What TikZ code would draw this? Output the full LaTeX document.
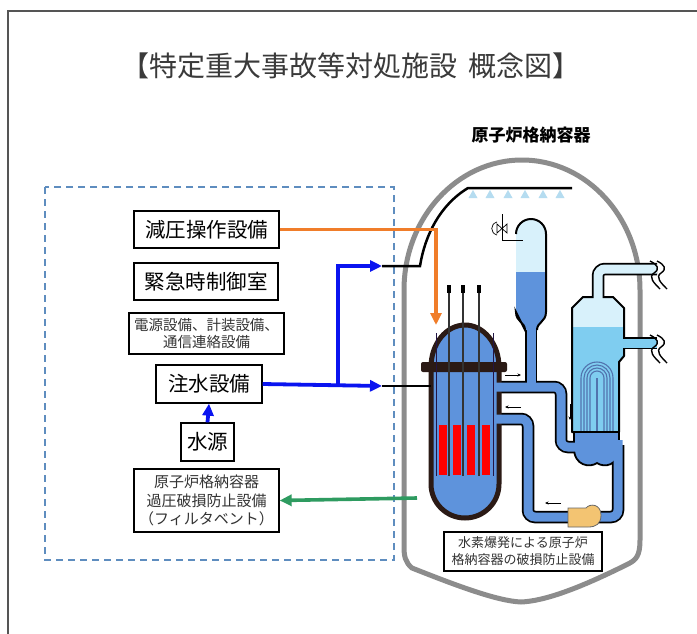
\documentclass[tikz,border=0pt]{standalone}
\usepackage{fontspec}
\newfontfamily\jp{Noto Sans CJK JP}
\usetikzlibrary{arrows.meta}
\definecolor{mblue}{HTML}{5E93DC}
\definecolor{lblue}{HTML}{D8F1FB}
\definecolor{sblue}{HTML}{7FCDF0}
\definecolor{vbrown}{HTML}{2B1A15}
\definecolor{cgray}{HTML}{8C8C8C}
\definecolor{dashc}{HTML}{5E8DBF}
\definecolor{orangec}{HTML}{F07D2A}
\definecolor{greenc}{HTML}{2E9B60}
\definecolor{pblue}{HTML}{0A14F0}
\definecolor{pumpc}{HTML}{F3C472}
\definecolor{sprayc}{HTML}{B5DCF0}
\definecolor{tubec}{HTML}{5173AE}
\definecolor{framec}{HTML}{555555}
\definecolor{titlec}{HTML}{3A3A3A}
\definecolor{graytext}{HTML}{333333}
\newcommand\brkmark[2]{%
  \draw[black, line width=1.4pt, shift={(#1,#2)}]
    (0,-14) .. controls (8,-10) and (10,-6) .. (4,-2) .. controls (-2,2) and (4,8) .. (10,14);
  \draw[black, line width=1.4pt, shift={(#1-7,#2)}]
    (0,-14) .. controls (8,-10) and (10,-6) .. (4,-2) .. controls (-2,2) and (4,8) .. (10,14);
}
\tikzset{
  boxbig/.style={draw=black, line width=1.3pt, inner sep=0pt, align=center, text=black,
    font=\jp\fontsize{20.5}{24}\selectfont},
  boxsmall/.style={draw=black, line width=1.3pt, inner sep=0pt, align=center, text=graytext},
  pipeout/.style={line width=12.5pt, black, rounded corners=7pt},
  pipein/.style={line width=9pt, mblue, rounded corners=7pt},
  flowarrow/.style={line width=0.8pt, black, -{Stealth[length=3.5pt,width=3pt]}},
  blueconn/.style={line width=3.8pt, pblue},
  bluetip/.style={-{Triangle[length=12pt,width=11pt]}},
  spraytri/.style={fill=sprayc},
}
\begin{document}
\begin{tikzpicture}[x=1pt,y=-1pt]
\useasboundingbox (0,0) rectangle (697,633);
\clip (0,0) rectangle (697,633);
\fill[white] (0,0) rectangle (697,633);
% outer frame
\draw[framec, line width=2pt] (8,11) rectangle (740,700);
% title
\node[font=\jp\fontsize{28}{30}\selectfont, text=titlec] (title) at (351,66) {【特定重大事故等対処施設\ \,概念図】};
\node[font=\jp\bfseries\fontsize{17}{20}\selectfont, text=black] (cvlabel) at (531,135) {原子炉格納容器};
% dashed area
\draw[dashc, line width=1.6pt, dash pattern=on 7pt off 5pt] (45,187) rectangle (394,560);

% containment vessel
\draw[cgray, line width=5pt] (404,290) arc[start angle=180, end angle=360, x radius=118, y radius=130]
  -- (640,540) .. controls (640,556) and (636,560) .. (628,564)
  .. controls (580,588) and (545,601) .. (521,602)
  .. controls (497,601) and (455,585) .. (412,568)
  .. controls (405,562) and (404,556) .. (404,546) -- cycle;

% spray nozzles
\foreach \sx in {473,490,508,525,543,560}{
  \fill[spraytri] (\sx,190) -- (\sx+4.5,198) -- (\sx-4.5,198) -- cycle;
}

% pipe outlines
\draw[pipeout] (531,322) -- (531,387);
\draw[pipeout] (499,387) -- (561,387) -- (561,447) -- (580,447);
\draw[pipeout] (618,445) -- (618,517) -- (528,517) -- (528,419) -- (499,419);
\draw[pipeout] (598,302) -- (598,269) -- (657,269);
\draw[pipeout] (618,343) -- (657,343);

% steam generator shell
\begin{scope}
  \clip (572,432) -- (572,308) -- (583,297) -- (613,297) -- (624,308) -- (624,356) -- (619,362) -- (619,432) -- cycle;
  \fill[lblue] (560,290) rectangle (630,327);
  \fill[sblue] (560,327) rectangle (630,440);
\end{scope}
\draw[black, line width=2pt, line join=round] (572,432) -- (572,308) -- (583,297) -- (613,297) -- (624,308) -- (624,356) -- (619,362) -- (619,432) -- cycle;
% U tubes
\foreach \hw in {16,13,10,7}{
  \draw[tubec, line width=1.1pt] (597-\hw,432) -- (597-\hw,378) arc[start angle=180, end angle=360, radius=\hw] -- (597+\hw,432);
}
\draw[tubec, line width=1.1pt] (597,378) -- (597,432);
% lower plenum
\filldraw[fill=mblue, draw=black, line width=1.8pt] (574,432) -- (619,432) -- (619,448)
  .. controls (619,466) and (604,468) .. (597,463) .. controls (590,468) and (574,466) .. (574,448) -- cycle;

% pressurizer
\begin{scope}
  \clip (516,234) arc[start angle=180, end angle=360, radius=15] -- (546,312)
    .. controls (546,322) and (537,322) .. (537,330) -- (525,330) .. controls (525,322) and (516,322) .. (516,312) -- cycle;
  \fill[mblue] (505,200) rectangle (560,340);
  \fill[lblue] (505,200) rectangle (560,272);
\end{scope}
\draw[black, line width=2pt] (516,234) arc[start angle=180, end angle=360, radius=15] -- (546,312)
    .. controls (546,322) and (537,322) .. (537,330) (525,330) .. controls (525,322) and (516,322) .. (516,312) -- cycle;

% reactor vessel
\filldraw[fill=mblue, draw=vbrown, line width=5pt] (431,367) -- (431,484)
  arc[start angle=180, end angle=0, radius=34] -- (499,367)
  arc[start angle=0, end angle=-180, x radius=34, y radius=42] -- cycle;
\fill[vbrown, rounded corners=2pt] (421,362) rectangle (507,372);
\draw[vbrown!80!blue, line width=0.8pt] (436,333) -- (436,476);
\draw[vbrown!80!blue, line width=0.8pt] (493,333) -- (493,476);
\foreach \fx in {439,453,467,482}{
  \fill[red] (\fx,425) rectangle (\fx+7.5,475);
}
\foreach \rx in {449,463,479}{
  \draw[black!80, line width=1.3pt] (\rx,290) -- (\rx,476);
  \fill[black] (\rx-1.8,285) rectangle (\rx+1.8,293);
}

% pipe inner (blue)
\draw[pipein] (531,320) -- (531,387);
\draw[pipein] (494,387) -- (561,387) -- (561,447) -- (582,447);
\draw[pipein] (618,440) -- (618,517) -- (528,517) -- (528,419) -- (494,419);
\draw[line width=9pt, lblue, rounded corners=7pt] (598,304) -- (598,269) -- (657,269);
\draw[line width=9pt, sblue] (620,343) -- (657,343);

% break marks
\brkmark{657}{275}
\brkmark{657}{349}

% pump
\filldraw[fill=pumpc, draw=black!60, line width=0.8pt] (568,508) -- (586,508)
  .. controls (590,503) and (601,504) .. (601,515) .. controls (601,524) and (596,527) .. (588,527) -- (568,527) -- cycle;

% flow arrows
\draw[flowarrow] (505,375) -- (521,375);
\draw[flowarrow] (521,407) -- (505,407);
\draw[flowarrow] (570,404) -- (570,420);
\draw[flowarrow] (561,503) -- (545,503);

% valve symbol
\draw[black, line width=0.7pt] (502,214) -- (502,240) -- (523,240);
\draw[black, line width=0.7pt] (497,224) -- (507,233) -- (507,224) -- (497,233) -- cycle;
\draw[black, line width=0.7pt] (497,222) .. controls (490,224) and (490,233) .. (497,235);

% boxes
\node[boxbig, minimum width=145pt, minimum height=37pt] (gen) at (206.5,229.5) {減圧操作設備};
\node[boxbig, minimum width=144pt, minimum height=37pt] (kin) at (206,281.5) {緊急時制御室};
\node[boxsmall, minimum width=155pt, minimum height=41pt, font=\jp\fontsize{14.5}{17}\selectfont] (den) at (206.5,333.5) {電源設備、計装設備、\\通信連絡設備};
\node[boxbig, minimum width=106pt, minimum height=38pt] (chu) at (209,384) {注水設備};
\node[boxbig, minimum width=53pt, minimum height=38pt] (sui) at (207.5,442) {水源};
\node[boxsmall, minimum width=145pt, minimum height=63pt, font=\jp\fontsize{15}{18.5}\selectfont] (fil) at (206.5,500.5) {原子炉格納容器\\過圧破損防止設備\\（フィルタベント）};
\node[boxsmall, fill=white, minimum width=158pt, minimum height=39pt, font=\jp\fontsize{13}{17}\selectfont] (hyd) at (523,551.5) {水素爆発による原子炉\\格納容器の破損防止設備};

% coordinates for connectors
\coordinate (inj) at (382,386);
\coordinate (brn) at (338,386);
\coordinate (inj2) at (382,266);
\coordinate (vin) at (431,386);
\coordinate (sprayend) at (572,188);
\coordinate (ventsrc) at (417,498);
\coordinate (depr) at (436,325);

% black lines into containment
\draw[black, line width=2.5pt] (inj) -- (vin);
\draw[black, line width=2.5pt] (inj2) -- (420,266) .. controls (425,235) and (440,205) .. (468,188) -- (sprayend);

% blue injection
\draw[blueconn, bluetip] (sui.north) -- (chu.south);
\draw[blueconn, bluetip] (chu.east) -- (inj);
\draw[blueconn, bluetip] (brn) -- (338,266) -- (inj2);

% orange depressurisation
\draw[orangec, line width=3.4pt, -{Triangle[length=12pt,width=11pt]}] (gen.east) -- (436,229.5) -- (depr);
% green vent
\draw[greenc, line width=3.6pt, -{Triangle[length=12pt,width=11pt]}] (ventsrc) -- (fil.east);
\end{tikzpicture}
\end{document}
